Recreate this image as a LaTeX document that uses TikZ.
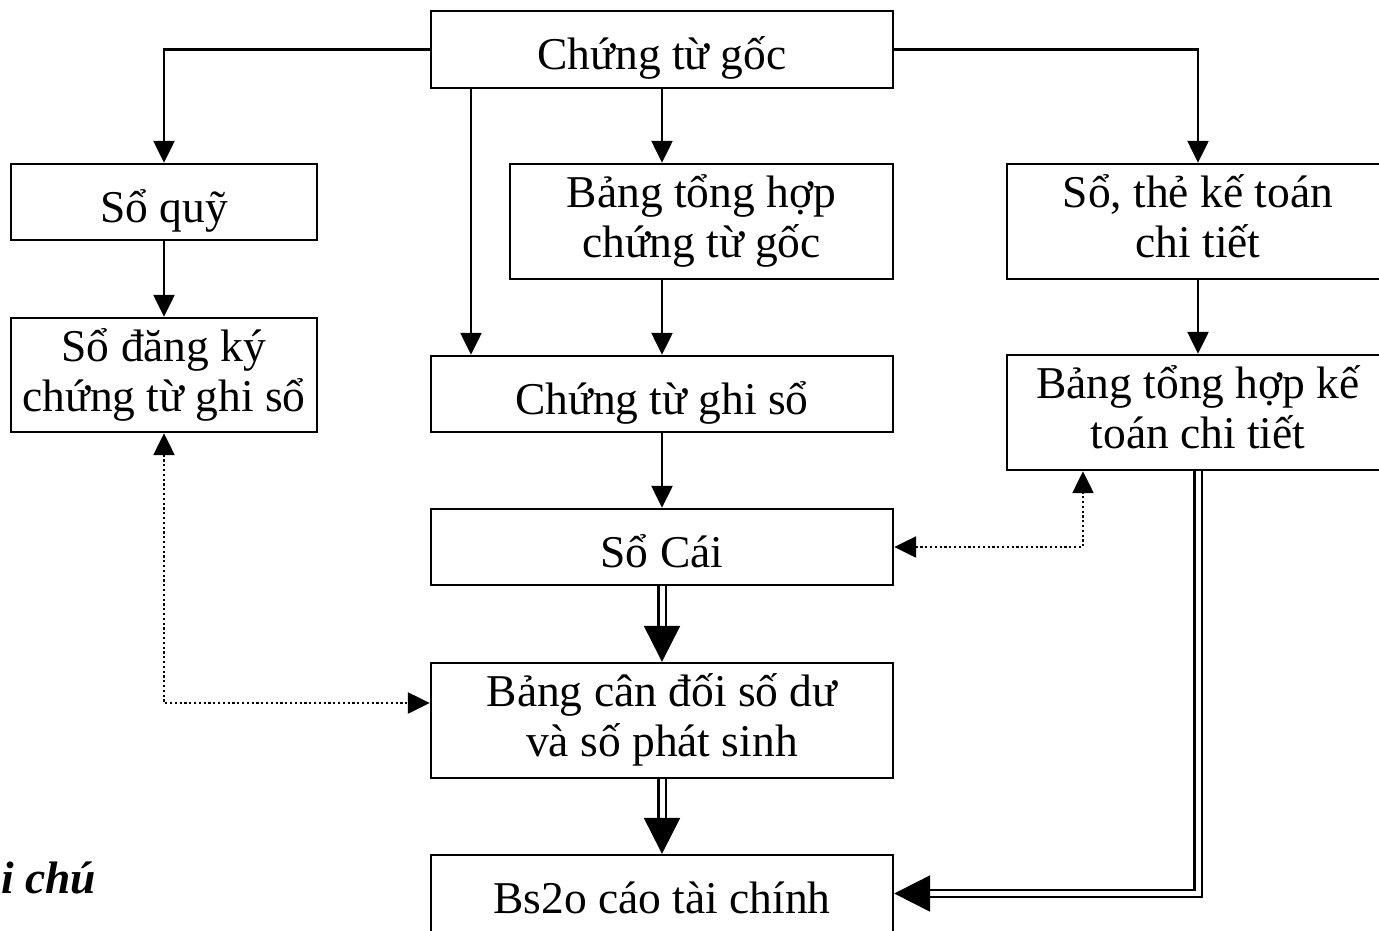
\documentclass[tikz,border=0pt]{standalone}
\usepackage{fontspec}
\setmainfont{Liberation Serif}
\usetikzlibrary{arrows.meta}
\begin{document}
\begin{tikzpicture}[x=1pt,y=-1pt,
  box/.style={draw, line width=2.4pt, inner sep=0pt, align=center,
    font=\fontsize{45.5}{50}\selectfont,
    execute at begin node={\rule[-10pt]{0pt}{60pt}},
    execute at end node={\rule[-10pt]{0pt}{60pt}}},
  flow/.style={line width=2.4pt, -{Triangle[width=21pt,length=22pt]}},
  bigflow/.style={line width=2.4pt, double, double distance=5pt,
    -{Triangle[width=36pt,length=36pt]}},
  link/.style={line width=2.4pt, dash pattern=on 2.2pt off 2.6pt,
    {Triangle[width=21pt,length=22pt]}-{Triangle[width=21pt,length=22pt]}}]
\useasboundingbox (0,0) rectangle (1379,930);
\clip (0,0) rectangle (1379,930);

% boxes
\node[box, minimum width=462pt, minimum height=77pt] (ctg) at (662,49.5) {Chứng từ gốc};
\node[box, minimum width=306pt, minimum height=76pt] (sq) at (164,202) {Sổ quỹ};
\node[box, minimum width=383pt, minimum height=115pt] (bth) at (701.5,221.5) {Bảng tổng hợp\\chứng từ gốc};
\node[box, minimum width=382pt, minimum height=115pt] (stk) at (1198,221.5) {Sổ, thẻ kế toán\\chi tiết};
\node[box, minimum width=306pt, minimum height=114pt] (sdk) at (164,375) {Sổ đăng ký\\chứng từ ghi sổ};
\node[box, minimum width=462pt, minimum height=76pt] (ctgs) at (662,394) {Chứng từ ghi sổ};
\node[box, minimum width=382pt, minimum height=115pt] (btk) at (1198,412.5) {Bảng tổng hợp kế\\toán chi tiết};
\node[box, minimum width=462pt, minimum height=76pt] (sc) at (662,547) {Sổ Cái};
\node[box, minimum width=462pt, minimum height=115pt] (bcd) at (662,720.5) {Bảng cân đối số dư\\và số phát sinh};
\node[box, minimum width=462pt, minimum height=77pt] (bc) at (662,893.5) {Bs2o cáo tài chính};

\node[anchor=base west, inner sep=0pt, font=\fontsize{45.5}{50}\selectfont\bfseries\itshape] (gc) at (1,893) {i chú};

% single-line flows
\draw[flow] (ctg.west) -| (sq.north);
\draw[flow] (ctg.east) -| (stk.north);
\draw[flow] (ctg.south) -- (ctg.south |- bth.north);
\draw[flow] ([xshift=-191pt]ctg.south) -- ([xshift=-191pt]ctgs.north);
\draw[flow] (sq) -- (sdk);
\draw[flow] (ctgs.north |- bth.south) -- (ctgs.north);
\draw[flow] (stk) -- (btk);
\draw[flow] (ctgs) -- (sc);

% double-line flows
\draw[bigflow] (sc) -- (bcd);
\draw[bigflow] (bcd) -- (bc);
\draw[bigflow] (btk.south) |- (bc.east);

% dotted cross-checks
\draw[link] (sdk.south) |- ([yshift=17.5pt]bcd.west);
\draw[link] (sc.east) -| ([xshift=-115pt]btk.south);
\end{tikzpicture}
\end{document}
